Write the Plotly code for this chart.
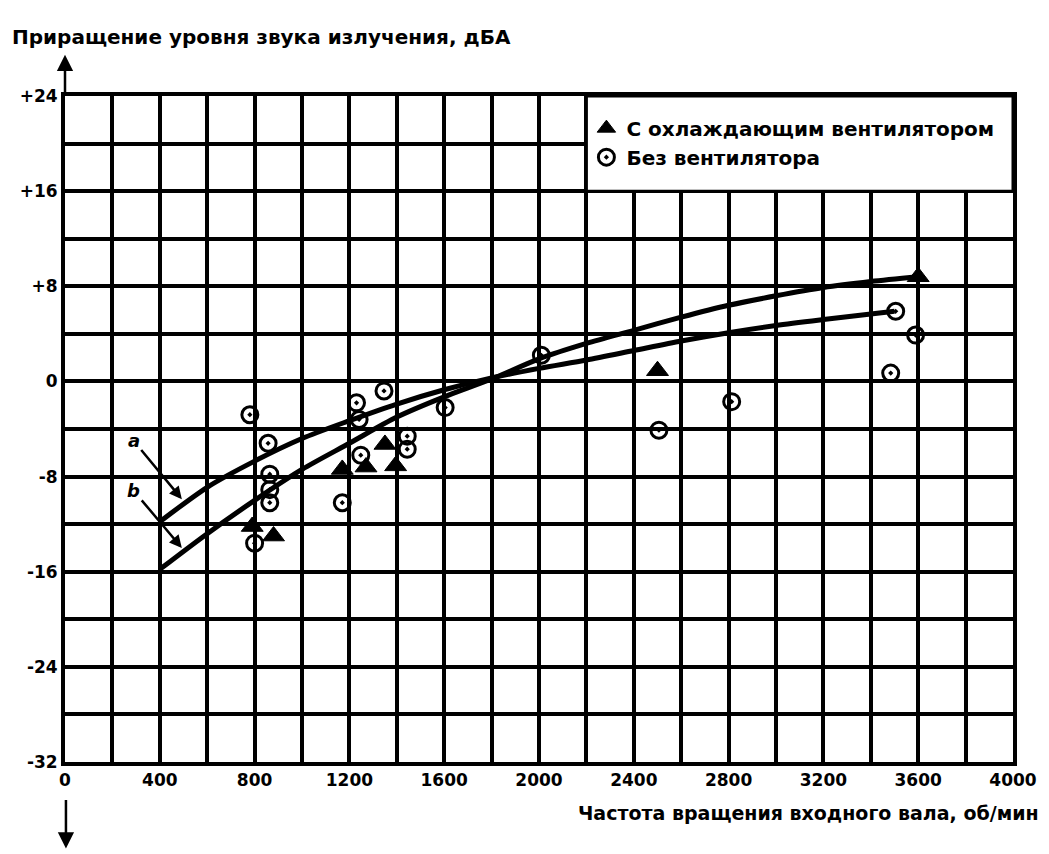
import plotly.graph_objects as go

# ---- data ----
curve_a_x = [400, 600, 800, 1000, 1200, 1400, 1600, 1800, 2000, 2200, 2400, 2600, 2800, 3000, 3200, 3500]
curve_a_y = [-11.8, -8.9, -6.7, -4.8, -3.3, -1.9, -0.7, 0.3, 1.1, 1.8, 2.6, 3.4, 4.1, 4.7, 5.2, 5.9]

curve_b_x = [400, 600, 800, 1000, 1200, 1400, 1600, 1800, 2000, 2200, 2400, 2600, 2800, 3000, 3200, 3400, 3600]
curve_b_y = [-15.8, -12.8, -10.0, -7.4, -5.2, -3.0, -1.3, 0.2, 1.9, 3.2, 4.3, 5.4, 6.4, 7.2, 7.9, 8.4, 8.8]

fan_x = [790, 880, 1170, 1270, 1350, 1395, 2500, 3600]
fan_y = [-12.2, -13.0, -7.4, -7.2, -5.3, -7.1, 0.9, 8.8]

nofan_x = [780, 857, 864, 864, 864, 800, 1170, 1230, 1241, 1248, 1346, 1444, 1444, 1604, 2010, 2506, 2813, 3484, 3505, 3589]
nofan_y = [-2.8, -5.2, -7.8, -9.1, -10.2, -13.6, -10.2, -1.8, -3.2, -6.2, -0.8, -4.6, -5.7, -2.2, 2.2, -4.1, -1.7, 0.7, 5.9, 3.9]

x_ticks = [0, 400, 800, 1200, 1600, 2000, 2400, 2800, 3200, 3600, 4000]
y_ticks = [-32, -24, -16, -8, 0, 8, 16, 24]
y_tick_text = ["-32", "-24", "-16", "-8", "0", "+8", "+16", "+24"]

legend_fan = "С охлаждающим вентилятором"
legend_nofan = "Без вентилятора"
y_title = "Приращение уровня звука излучения, дБА"
x_title = "Частота вращения входного вала, об/мин"

FONT = "DejaVu Sans"
BLACK = "#000000"

fig = go.Figure()

fig.add_trace(go.Scatter(x=curve_a_x, y=curve_a_y, mode="lines",
                         line=dict(color=BLACK, width=5, shape="spline", smoothing=0.8),
                         showlegend=False, hoverinfo="skip"))
fig.add_trace(go.Scatter(x=curve_b_x, y=curve_b_y, mode="lines",
                         line=dict(color=BLACK, width=5, shape="spline", smoothing=0.8),
                         showlegend=False, hoverinfo="skip"))

fig.add_trace(go.Scatter(x=fan_x, y=fan_y, mode="markers", name=legend_fan,
                         marker=dict(symbol="triangle-up", size=19, color=BLACK,
                                     line=dict(color=BLACK, width=1))))
fig.add_trace(go.Scatter(x=nofan_x, y=nofan_y, mode="markers", name=legend_nofan,
                         marker=dict(symbol="circle-open-dot", size=16, color=BLACK,
                                     line=dict(color=BLACK, width=3))))

grid_w = 3.5

fig.update_xaxes(
    range=[0, 4000], tickvals=x_ticks, ticktext=[str(v) for v in x_ticks],
    showgrid=True, gridcolor=BLACK, gridwidth=grid_w,
    minor=dict(dtick=200, showgrid=True, gridcolor=BLACK, gridwidth=grid_w, ticks=""),
    showline=True, linecolor=BLACK, linewidth=4, mirror=True, zeroline=False,
    ticks="", tickfont=dict(family=FONT, size=17, color=BLACK, weight="bold"),
)
fig.update_yaxes(
    range=[-32, 24], tickvals=y_ticks, ticktext=y_tick_text,
    showgrid=True, gridcolor=BLACK, gridwidth=grid_w,
    minor=dict(dtick=4, showgrid=True, gridcolor=BLACK, gridwidth=grid_w, ticks=""),
    showline=True, linecolor=BLACK, linewidth=4, mirror=True, zeroline=False,
    ticks="", tickfont=dict(family=FONT, size=17, color=BLACK, weight="bold"),
)

# white legend box over the grid
fig.add_shape(type="rect", xref="x", yref="y", x0=2200, x1=4000, y0=16, y1=24,
              fillcolor="white", line=dict(color=BLACK, width=3), layer="above")

annotations = [
    dict(text=y_title, xref="paper", yref="paper", x=-0.058, y=1.0885,
         xanchor="left", yanchor="middle", showarrow=False,
         font=dict(family=FONT, size=20, color=BLACK, weight="bold")),
    dict(text=x_title, xref="paper", yref="paper", x=1.03, y=-0.076,
         xanchor="right", yanchor="middle", showarrow=False,
         font=dict(family=FONT, size=19, color=BLACK, weight="bold")),
    # axis arrows
    dict(text="", xref="paper", yref="paper", x=0, y=1.062, ax=0, ay=42,
         showarrow=True, arrowhead=2, arrowsize=1.3, arrowwidth=2.5, arrowcolor=BLACK),
    dict(text="", xref="paper", yref="paper", x=0.001, y=-0.13, ax=0, ay=-50,
         showarrow=True, arrowhead=2, arrowsize=1.3, arrowwidth=2.5, arrowcolor=BLACK),
    # curve labels
    dict(text="<i>a</i>", x=493, y=-9.9, ax=290, ay=-5.0, xref="x", yref="y",
         axref="x", ayref="y", showarrow=True, arrowhead=2, arrowsize=1, arrowwidth=2.5,
         arrowcolor=BLACK, font=dict(family=FONT, size=18, color=BLACK, weight="bold")),
    dict(text="<i>b</i>", x=493, y=-14.0, ax=290, ay=-9.2, xref="x", yref="y",
         axref="x", ayref="y", showarrow=True, arrowhead=2, arrowsize=1, arrowwidth=2.5,
         arrowcolor=BLACK, font=dict(family=FONT, size=18, color=BLACK, weight="bold")),
]

fig.update_layout(
    width=1041, height=846,
    margin=dict(l=56, r=31, t=88, b=91.5),
    paper_bgcolor="white", plot_bgcolor="white",
    font=dict(family=FONT, color=BLACK),
    annotations=annotations,
    legend=dict(x=0.55, y=0.981, xanchor="left", yanchor="top",
                bgcolor="rgba(0,0,0,0)", borderwidth=0,
                font=dict(family=FONT, size=20, color=BLACK, weight="bold"),
                itemsizing="trace", tracegroupgap=2),
)

fig.write_html("out.html")
